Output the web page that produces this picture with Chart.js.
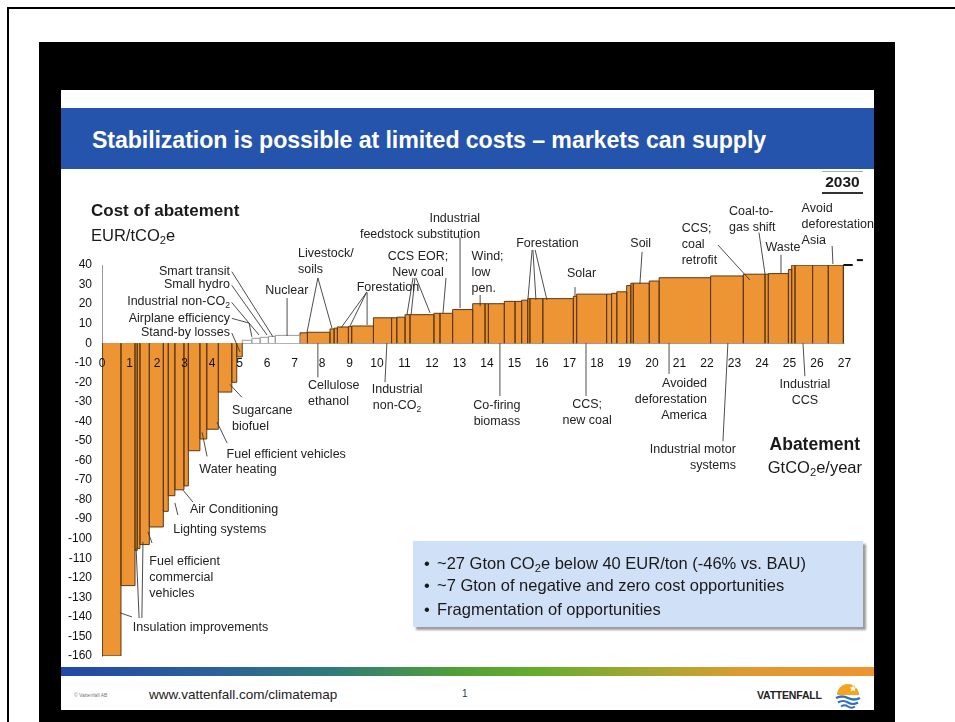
<!DOCTYPE html>
<html lang="en">
<head>
<meta charset="utf-8" />
<title>Stabilization is possible at limited costs</title>
<style>
body { margin: 0; width: 955px; height: 722px; overflow: hidden; background: #fff;
  font-family: "Liberation Sans", Arial, sans-serif; color: #1a1a1a; }
.abs { position: absolute; white-space: nowrap; }
sub { font-size: 0.68em; vertical-align: -0.28em; line-height: 0; }
#page { left: 7px; top: 7px; width: 960px; height: 730px; border-left: 2px solid #000; border-top: 2px solid #000; }
#frame { left: 39px; top: 42px; width: 856px; height: 700px; background: #000; }
#slide { left: 61px; top: 90px; width: 813px; height: 620px; background: #fff; }
#titlebar { left: 61px; top: 108px; width: 813px; height: 61px; background: #2454ab; }
#title { left: 92px; top: 128px; color: #fff; font-weight: bold; font-size: 23.2px; line-height: 24px; letter-spacing: -0.1px; }
#chart { position: absolute; left: 0; top: 0; }
#ytitle1 { left: 91px; top: 201px; font-weight: bold; font-size: 17px; line-height: 20px; }
#ytitle2 { left: 91px; top: 225px; font-size: 16.5px; line-height: 20px; }
#year { left: 822px; top: 171px; width: 41px; text-align: center; font-weight: bold; font-size: 15.5px;
  line-height: 20px; border-top: 1px solid #aaa; border-bottom: 2px solid #333; }
#xtitle1 { right: 95px; top: 434px; font-weight: bold; font-size: 17.5px; line-height: 20px; }
#xtitle2 { right: 93px; top: 457px; font-size: 16.5px; line-height: 20px; }
#note { left: 413px; top: 541px; width: 450px; height: 86px; background: #cfe0f7;
  box-shadow: 3px 3px 2px #9c9c9c; font-size: 16.5px; color: #1a1a1a; }
#note div { position: absolute; left: 24px; white-space: nowrap; line-height: 23px; }
#note span.dot { position: absolute; left: -13px; }
#footbar { left: 61px; top: 667px; width: 813px; height: 9px;
  background: linear-gradient(to right, #2249a6 0%, #2b5f9c 18%, #2f7a7c 33%, #4f9e3a 48%, #62ad2c 58%, #a4a733 72%, #de9a2f 84%, #ef9331 100%); }
#copy { left: 74px; top: 692px; font-size: 5px; color: #777; }
#url { left: 149px; top: 686px; font-size: 13.5px; line-height: 18px; color: #222; }
#pageno { left: 462px; top: 688px; font-size: 10px; color: #333; }
#brand { left: 757px; top: 689px; font-size: 10.5px; font-weight: bold; color: #222; letter-spacing: -0.2px; }
#logo { left: 835px; top: 681px; }
</style>
</head>
<body>
<div id="page" class="abs"></div>
<div id="frame" class="abs"></div>
<div id="slide" class="abs"></div>
<div id="titlebar" class="abs"></div>
<div id="title" class="abs">Stabilization is possible at limited costs – markets can supply</div>
<div id="footbar" class="abs"></div>
<div id="copy" class="abs">© Vattenfall AB</div>
<div id="url" class="abs">www.vattenfall.com/climatemap</div>
<div id="pageno" class="abs">1</div>
<div id="brand" class="abs">VATTENFALL</div>
<svg id="logo" class="abs" width="26" height="28" viewBox="0 0 26 28">
  <path d="M2 14 A11 11 0 0 1 24 14 Z" fill="#f2a422"/>
  <path d="M18 4 l1 2.2 2.4 .2 -1.8 1.6 .6 2.4 -2.2 -1.3 -2.2 1.3 .6 -2.4 -1.8 -1.6 2.4 -.2z" fill="#fff"/>
  <path d="M1 17 q6 -3 12 0 t12 0" stroke="#2f6fc0" stroke-width="2.4" fill="none"/>
  <path d="M3 21.5 q5 -3 10 0 t10 0" stroke="#2f6fc0" stroke-width="2.2" fill="none"/>
  <path d="M6 25.5 q3.5 -2.4 7 0 t7 0" stroke="#2f6fc0" stroke-width="2" fill="none"/>
</svg>

<canvas id="chart" width="955" height="722"></canvas>

<div id="ytitle1" class="abs">Cost of abatement</div>
<div id="ytitle2" class="abs">EUR/tCO<sub>2</sub>e</div>
<div id="year" class="abs">2030</div>
<div id="xtitle1" class="abs">Abatement</div>
<div id="xtitle2" class="abs">GtCO<sub>2</sub>e/year</div>
<div id="note" class="abs">
  <div style="top:11px"><span class="dot">•</span>~27 Gton CO<sub>2</sub>e below 40 EUR/ton (-46% vs. BAU)</div>
  <div style="top:33px"><span class="dot">•</span>~7 Gton of negative and zero cost opportunities</div>
  <div style="top:57px"><span class="dot">•</span>Fragmentation of opportunities</div>
</div>

<script src="https://cdn.jsdelivr.net/npm/chart.js"></script>
<script>
// measures in merit order: abatement potential (GtCO2e/year) and cost (EUR/tCO2e)
const negPotential = [0.69, 0.51, 0.08, 0.10, 0.34, 0.51, 0.18, 0.24, 0.33, 0.16, 0.42, 0.25, 0.42, 0.49, 0.18, 0.20];
const negCost      = [-160, -124, -106, -105, -103, -94, -86, -78, -75, -73, -55, -49, -44, -25, -20, -7];
// the near-zero cost measures (white blocks)
const lowPotential = [0.35, 0.30, 0.30, 0.25, 0.90];
const lowCost      = [1.5, 2.5, 3, 3.5, 4];
const posPotential = [0.27, 0.82, 0.15, 0.12, 0.40, 0.12, 0.79, 0.66, 0.19, 0.30, 0.18, 0.87, 0.22, 0.46, 0.73,
                      0.45, 0.12, 0.58, 0.39, 0.24, 0.22, 0.08, 0.47, 1.11, 0.12, 1.09, 0.18, 0.19, 0.36, 0.15,
                      0.09, 0.58, 0.36, 1.87, 1.19, 0.79, 0.12, 0.73, 0.12, 0.12, 0.64, 0.57, 0.55];
const posCost      = [5.3, 5.6, 7.3, 7.7, 8.3, 8.6, 8.8, 13, 13, 13.3, 14.6, 14.6, 15.3, 15.3, 17.2,
                      20.2, 20.2, 20.2, 21.4, 21.4, 22, 22.8, 22.8, 22.8, 24, 25.1, 25.1, 25.5, 26.3, 29.5,
                      30.7, 30.7, 31.8, 33.5, 34.4, 35.3, 35.3, 35.6, 37.7, 39.9, 39.9, 39.9, 39.9];
const xTicks = [0, 1, 2, 3, 4, 5, 6, 7, 8, 9, 10, 11, 12, 13, 14, 15, 16, 17, 18, 19, 20, 21, 22, 23, 24, 25, 26, 27];
const yTicks = [40, 30, 20, 10, 0, -10, -20, -30, -40, -50, -60, -70, -80, -90, -100, -110, -120, -130, -140, -150, -160];
// little dashes right of the curve at the 40 EUR level
const capMarks = [[26.96, 27.3, 40], [27.45, 27.67, 42.5]];

const FONT = '"Liberation Sans", Arial, sans-serif';
const ORANGE = '#ed9434';
const EDGE = '#5b3812';

// callouts: lines of text, anchor (x, y in data units), alignment, leader lines in data units
const callouts = [
  { t: ['Smart transit'], at: [4.65, 36.6], a: 'right', l: [[[4.72, 36.6], [6.22, 3.2]]] },
  { t: ['Small hydro'], at: [4.65, 29.8], a: 'right', l: [[[4.72, 29.6], [6.0, 4.2]]] },
  { t: ['Industrial non-CO_2'], at: [4.65, 21.2], a: 'right', l: [[[4.72, 20.8], [5.71, 4.2]]] },
  { t: ['Airplane efficiency'], at: [4.65, 12.7], a: 'right', l: [[[4.72, 12.7], [5.35, 10.3], [5.45, 3.2]]] },
  { t: ['Stand-by losses'], at: [4.65, 5.4], a: 'right', l: [[[4.72, 5.2], [5.02, -4.5]]] },
  { t: ['Nuclear'], at: [6.72, 26.9], a: 'center', l: [[[6.73, 23.1], [6.73, 3.7]]] },
  { t: ['Livestock/', 'soils'], at: [7.13, 46.1], a: 'left', l: [[[7.85, 33.4], [7.45, 5.2]], [[7.85, 33.4], [8.36, 7.8]]] },
  { t: ['Cellulose', 'ethanol'], at: [7.49, -21.9], a: 'left', l: [[[7.85, 0], [7.85, -17.5]]] },
  { t: ['Forestation'], at: [10.4, 28.7], a: 'center', l: [[[9.62, 26], [8.69, 7.8]], [[9.62, 26], [9.02, 8.8]], [[9.64, 26], [9.64, 9.3]]] },
  { t: ['CCS EOR;', 'New coal'], at: [11.49, 44.1], a: 'center',
    l: [[[11.31, 33.4], [11.09, 14.5]], [[11.38, 33.4], [11.24, 14.5]], [[11.42, 33.4], [11.93, 15.5]], [[12.51, 33.4], [12.4, 15.5]]] },
  { t: ['Industrial', 'feedstock substitution'], at: [13.75, 63.9], a: 'right', l: [[[13.02, 54.1], [13.02, 18.0]]] },
  { t: ['Wind;', 'low', 'pen.'], at: [13.44, 44.2], a: 'left', l: [[[13.75, 24.7], [13.75, 19.0]]] },
  { t: ['Industrial', 'non-CO_2'], at: [10.73, -23.9], a: 'center', l: [[[10.36, 0], [10.29, -19.9]]] },
  { t: ['Co-firing', 'biomass'], at: [14.36, -32.1], a: 'center', l: [[[14.47, -27], [14.47, 0]]] },
  { t: ['Forestation'], at: [16.2, 51.1], a: 'center', l: [[[15.64, 47.7], [15.49, 22.6]], [[15.67, 47.7], [15.78, 22.1]], [[15.75, 47.7], [16.18, 22.1]]] },
  { t: ['Solar'], at: [17.44, 35.4], a: 'center', l: [[[17.2, 28.7], [17.2, 24.2]]] },
  { t: ['CCS;', 'new coal'], at: [17.64, -31.6], a: 'center', l: [[[17.6, -27], [17.6, 0]]] },
  { t: ['Soil'], at: [19.59, 51.1], a: 'center', l: [[[19.64, 46.7], [19.56, 30.3]]] },
  { t: ['Avoided', 'deforestation', 'America'], at: [22.0, -20.4], a: 'right', l: [[[20.62, 0], [20.62, -15.7]]] },
  { t: ['Industrial motor', 'systems'], at: [23.05, -54.6], a: 'right', l: [[[22.76, 0], [22.58, -50.2]]] },
  { t: ['CCS;', 'coal', 'retrofit'], at: [21.08, 58.9], a: 'left', l: [[[22.4, 50.2], [23.56, 32.3]]] },
  { t: ['Coal-to-', 'gas shift'], at: [22.8, 67.3], a: 'left', l: [[[23.89, 56.6], [24.11, 35.4]]] },
  { t: ['Waste'], at: [24.76, 49.1], a: 'center', l: [[[24.69, 45.2], [24.69, 35.4]]] },
  { t: ['Avoid', 'deforestation', 'Asia'], at: [25.44, 69.0], a: 'left', l: [[[26.55, 49.7], [26.58, 40.5]]] },
  { t: ['Industrial', 'CCS'], at: [25.56, -20.9], a: 'center', l: [[[25.49, 0], [25.56, -16.9]]] },
  { t: ['Sugarcane', 'biofuel'], at: [4.73, -34.5], a: 'left', l: [[[4.65, -21.1], [5.09, -27.7]]] },
  { t: ['Fuel efficient vehicles'], at: [4.53, -57.0], a: 'left', l: [[[4.18, -40.3], [4.55, -51.1]]] },
  { t: ['Water heating'], at: [3.54, -64.5], a: 'left', l: [[[3.64, -45.6], [3.82, -57.9]]] },
  { t: ['Air Conditioning'], at: [3.2, -85.3], a: 'left', l: [[[2.95, -75.2], [3.31, -81.3]]] },
  { t: ['Lighting systems'], at: [2.59, -95.2], a: 'left', l: [[[2.65, -81.7], [2.76, -87.9]]] },
  { t: ['Fuel efficient', 'commercial', 'vehicles'], at: [1.72, -111.7], a: 'left', l: [[[1.67, -96.5], [1.82, -102.2]]] },
  { t: ['Insulation improvements'], at: [1.12, -145.3], a: 'left',
    l: [[[1.09, -140], [0.65, -137.9]], [[1.35, -140.6], [1.24, -104.8]], [[1.45, -140.6], [1.49, -101.7]]] }
];

function blocks(widths, costs, start) {
  const pts = [];
  let x = start;
  widths.forEach((w, i) => {
    const x2 = +(x + w).toFixed(3);
    pts.push({x: x, y: 0}, {x: x, y: costs[i]}, {x: x2, y: costs[i]}, {x: x2, y: 0});
    x = x2;
  });
  return pts;
}
const sum = a => a.reduce((s, v) => s + v, 0);
const lowStart = +sum(negPotential).toFixed(3);
const posStart = +(lowStart + sum(lowPotential)).toFixed(3);

// text with "_2" style subscripts
function drawRich(ctx, str, px, py, align, size) {
  const parts = str.split(/_(\d)/);
  const fontOf = i => (i % 2 ? size * 0.68 : size) + 'px ' + FONT;
  let w = 0;
  parts.forEach((p, i) => { ctx.font = fontOf(i); w += ctx.measureText(p).width; });
  let cx = align === 'right' ? px - w : align === 'center' ? px - w / 2 : px;
  parts.forEach((p, i) => {
    ctx.font = fontOf(i);
    ctx.fillText(p, cx, py + (i % 2 ? size * 0.3 : 0));
    cx += ctx.measureText(p).width;
  });
}

const calloutPlugin = {
  id: 'callouts',
  afterDatasetsDraw(chart) {
    const ctx = chart.ctx, xs = chart.scales.x, ys = chart.scales.y;
    const P = (u, v) => [xs.getPixelForValue(u), ys.getPixelForValue(v)];
    ctx.save();
    ctx.strokeStyle = '#3a3a3a';
    ctx.lineWidth = 0.9;
    callouts.forEach(c => c.l.forEach(path => {
      ctx.beginPath();
      path.forEach(([u, v], i) => { const [px, py] = P(u, v); i ? ctx.lineTo(px, py) : ctx.moveTo(px, py); });
      ctx.stroke();
    }));
    ctx.strokeStyle = '#111';
    ctx.lineWidth = 2;
    capMarks.forEach(([u1, u2, v]) => {
      const [a, b] = P(u1, v), [c] = P(u2, v);
      ctx.beginPath(); ctx.moveTo(a, b); ctx.lineTo(c, b); ctx.stroke();
    });
    ctx.fillStyle = '#222';
    ctx.textBaseline = 'middle';
    callouts.forEach(c => {
      const [px, py] = P(c.at[0], c.at[1]);
      c.t.forEach((line, i) => drawRich(ctx, line, px, py + i * 16, c.a, 12.5));
    });
    ctx.restore();
  }
};

const tickFont = {family: FONT, size: 12};
new Chart(document.getElementById('chart'), {
  type: 'line',
  data: {
    datasets: [
      { data: blocks(negPotential, negCost, 0), fill: 'origin', backgroundColor: ORANGE, borderColor: EDGE },
      { data: blocks(lowPotential, lowCost, lowStart), fill: 'origin', backgroundColor: '#fff', borderColor: '#9a9a9a' },
      { data: blocks(posPotential, posCost, posStart), fill: 'origin', backgroundColor: ORANGE, borderColor: EDGE }
    ]
  },
  options: {
    responsive: false,
    animation: false,
    devicePixelRatio: 1,
    layout: { padding: { left: 62, right: 110.5, top: 265, bottom: 66 } },
    elements: { line: { borderWidth: 1, tension: 0, borderJoinStyle: 'miter' }, point: { radius: 0 } },
    plugins: { legend: { display: false }, tooltip: { enabled: false } },
    scales: {
      x: {
        type: 'linear', min: 0, max: 27, position: { y: 0 },
        grid: { display: false }, border: { display: false },
        afterFit: s => { s.height = 0; },
        afterBuildTicks: s => { s.ticks = xTicks.map(v => ({value: v})); },
        ticks: { z: 1, autoSkip: false, maxRotation: 0, padding: 5, color: '#111', font: tickFont }
      },
      y: {
        min: -160, max: 40,
        afterFit: s => { s.width = 40; },
        afterBuildTicks: s => { s.ticks = yTicks.map(v => ({value: v})); },
        grid: { drawTicks: false, color: c => (c.tick && c.tick.value === 0 ? '#9a9a9a' : 'rgba(0,0,0,0)') },
        border: { color: '#9a9a9a' },
        ticks: { padding: 10, color: '#111', font: tickFont }
      }
    }
  },
  plugins: [calloutPlugin]
});
</script>
</body>
</html>
